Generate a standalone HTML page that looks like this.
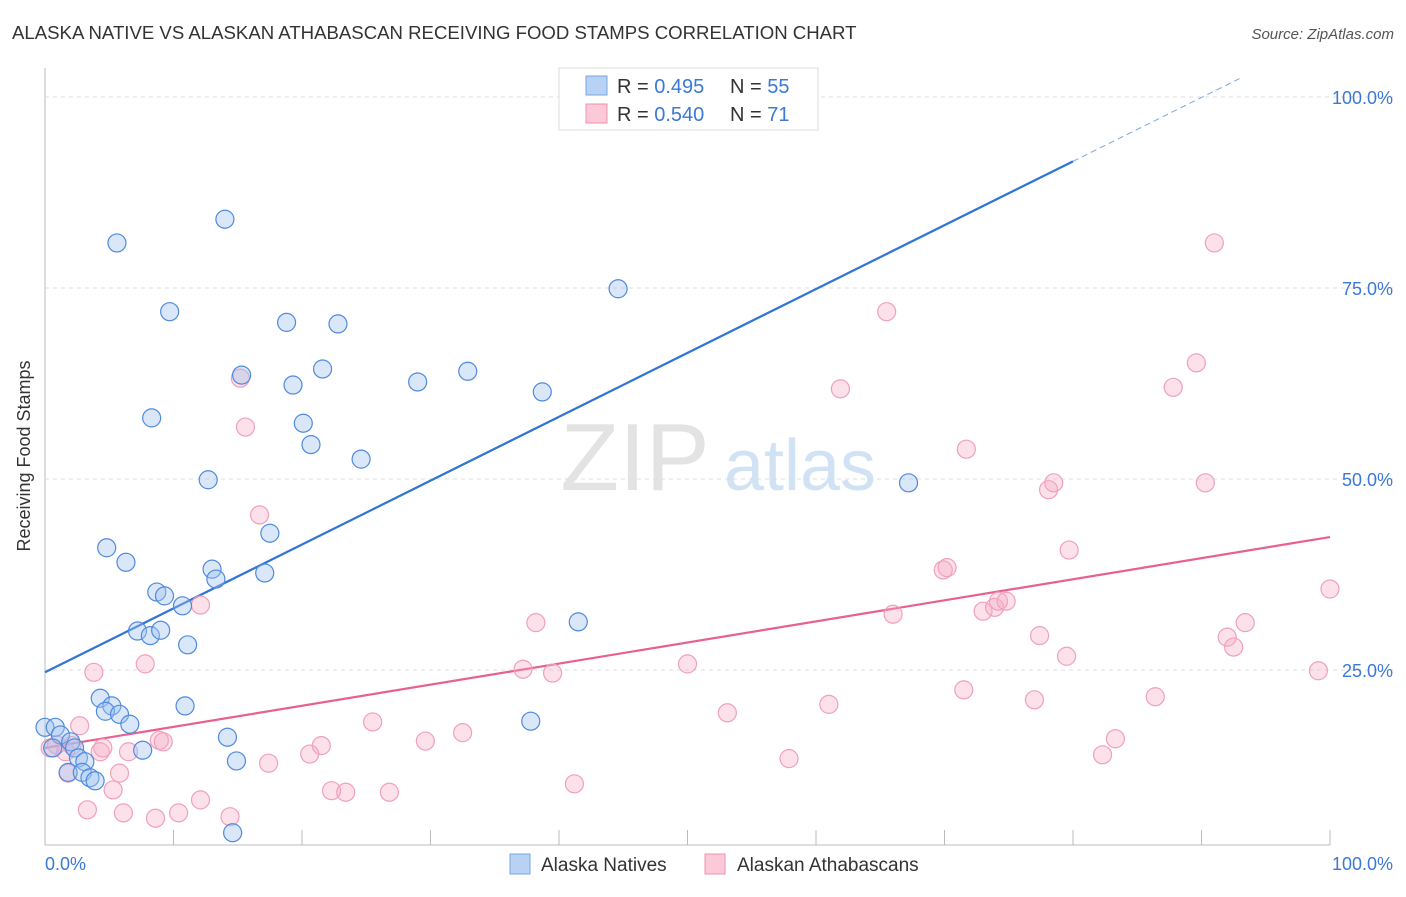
<!DOCTYPE html>
<html><head><meta charset="utf-8"><style>
body{margin:0;background:#fff;font-family:"Liberation Sans",sans-serif;}
svg text{font-family:"Liberation Sans",sans-serif;}
</style></head><body>
<svg id="c" width="1406" height="892" viewBox="0 0 1406 892" xmlns="http://www.w3.org/2000/svg">
<text x="12" y="39" font-size="18.6" fill="#333">ALASKA NATIVE VS ALASKAN ATHABASCAN RECEIVING FOOD STAMPS CORRELATION CHART</text>
<text x="1394" y="39" font-size="15" fill="#555" font-style="italic" text-anchor="end">Source: ZipAtlas.com</text>
<text x="30" y="456" font-size="18" fill="#333" text-anchor="middle" transform="rotate(-90 30 456)">Receiving Food Stamps</text>
<g id="grid"></g>
<g><text x="635" y="490" font-size="96" fill="#ddd" font-family="Liberation Serif" text-anchor="middle" opacity="0.8">ZIP</text><text x="800" y="490" font-size="72" fill="#c8dcf3" text-anchor="middle" opacity="0.8">atlas</text></g>
<g id="lines"></g>
<g id="pts"></g>
<g>
<rect x="559" y="68" width="259" height="62" fill="#fff" stroke="#ddd"/>
<rect x="586" y="76" width="21" height="19" fill="#b7d2f4" stroke="#7aa7e0"/>
<rect x="586" y="104" width="21" height="19" fill="#fbc9d8" stroke="#ee93b0"/>
<text x="617" y="93" font-size="20" fill="#333">R = <tspan fill="#3b78d8">0.495</tspan></text>
<text x="730" y="93" font-size="20" fill="#333">N = <tspan fill="#3b78d8">55</tspan></text>
<text x="617" y="121" font-size="20" fill="#333">R = <tspan fill="#3b78d8">0.540</tspan></text>
<text x="730" y="121" font-size="20" fill="#333">N = <tspan fill="#3b78d8"> 71</tspan></text>
</g>
<g>
<rect x="510" y="854" width="20" height="20" fill="#b7d2f4" stroke="#7aa7e0"/>
<text x="541" y="871" font-size="19" fill="#333">Alaska Natives</text>
<rect x="705" y="854" width="20" height="20" fill="#fbc9d8" stroke="#ee93b0"/>
<text x="737" y="871" font-size="19" fill="#333">Alaskan Athabascans</text>
</g>
<text x="45" y="870" font-size="18" fill="#3b78d8">0.0%</text>
<text x="1393" y="870" font-size="18" fill="#3b78d8" text-anchor="end">100.0%</text>
</svg>
<script>
const yTicks=[25,50,75,100];
const yTickLabels=["25.0%","50.0%","75.0%","100.0%"];
const xTicks=[0,10,20,30,40,50,60,70,80,90,100];
const blueX=[0,0.8,1.2,2,2.3,0.6,2.6,3.1,1.8,2.9,3.5,3.9,4.3,5.2,4.7,5.8,6.6,7.6,10.9,14.2,14.9,14.6,4.8,6.3,7.2,8.2,9,8.7,9.3,10.7,11.1,12.7,13,13.3,17.1,17.5,5.6,14,9.7,8.3,15.3,18.8,22.8,19.3,20.1,20.7,21.6,24.6,29,32.9,38.7,44.6,41.5,37.8,67.2];
const blueY=[17.5,17.5,16.5,15.6,14.8,14.8,13.5,13,11.6,11.6,10.9,10.5,21.3,20.3,19.6,19.2,17.9,14.5,20.3,16.2,13.1,3.7,41,39.1,30.1,29.5,30.2,35.2,34.7,33.4,28.3,49.9,38.2,36.9,37.7,42.9,80.9,84,71.9,58,63.6,70.5,70.3,62.3,57.3,54.5,64.4,52.6,62.7,64.1,61.4,74.9,31.3,18.3,49.5];
const pinkX=[0.4,0.9,1.6,2.1,2.7,1.8,3.3,3.8,4.3,4.5,5.3,5.8,6.1,6.5,7.8,8.6,8.9,9.2,10.4,12.1,12.1,14.4,15.2,15.6,16.7,17.4,20.6,21.5,22.3,23.4,25.5,26.8,29.6,32.5,38.2,37.2,39.5,41.2,50,53.1,57.9,61,61.9,65.5,66,69.9,70.2,71.5,71.7,73,73.9,74.2,74.8,77,77.4,78.1,78.5,79.5,79.7,82.3,83.3,86.4,87.8,89.6,90.3,91,92,92.5,93.4,99.1,100];
const pinkY=[14.8,15.2,14.3,15.1,17.7,11.5,6.7,24.7,14.3,14.8,9.3,11.5,6.3,14.3,25.8,5.6,15.8,15.6,6.3,33.5,8,5.8,63.2,56.8,45.3,12.8,14,15.1,9.2,9,18.2,9,15.7,16.8,31.2,25.1,24.6,10.1,25.8,19.4,13.4,20.5,61.8,71.9,32.3,38.1,38.4,22.4,53.9,32.7,33.2,34,34,21.1,29.5,48.6,49.5,26.8,40.7,13.9,16,21.5,62,65.2,49.5,80.9,29.3,28,31.2,24.9,35.6];
const trendBlue=[24.7,0.836];
const trendPink=[14.8,0.276];
const NS="http://www.w3.org/2000/svg";
const sx=v=>45+v*12.85, sy=v=>861-v*7.64;
function mk(t,a,p){const e=document.createElementNS(NS,t);for(const k in a)e.setAttribute(k,a[k]);p.appendChild(e);return e;}
const grid=document.getElementById('grid');
mk('line',{x1:45,y1:68,x2:45,y2:845,stroke:'#bbb'},grid);
mk('line',{x1:45,y1:845,x2:1330,y2:845,stroke:'#bbb'},grid);
yTicks.forEach((t,i)=>{
 const l=mk('line',{x1:45,y1:sy(t),x2:1394,y2:sy(t),stroke:'#ddd','stroke-dasharray':'4,4'},grid);
 
 
 const tx=mk('text',{x:1393,y:sy(t)+7,'font-size':18,fill:'#3b78d8','text-anchor':'end'},grid);
 tx.textContent=yTickLabels[i];
 
 
});
xTicks.forEach(t=>{
 const l=mk('line',{x1:sx(t),y1:830,x2:sx(t),y2:845,stroke:'#bbb'},grid);
 
 
});
const lines=document.getElementById('lines');
let b=mk('line',{x1:sx(0),y1:sy(trendBlue[0]),x2:sx(80),y2:sy(trendBlue[0]+80*trendBlue[1]),stroke:'#2f74d6','stroke-width':2.2},lines);


let bd=mk('line',{x1:sx(80),y1:sy(trendBlue[0]+80*trendBlue[1]),x2:sx(93),y2:sy(trendBlue[0]+93*trendBlue[1]),stroke:'#7aa7e0','stroke-width':1,'stroke-dasharray':'6,4'},lines);


let p=mk('line',{x1:sx(0),y1:sy(trendPink[0]),x2:sx(100),y2:sy(trendPink[0]+100*trendPink[1]),stroke:'#e8608c','stroke-width':2.2},lines);


const pts=document.getElementById('pts');
pinkX.forEach((x,i)=>{
 const c=mk('circle',{cx:sx(x),cy:sy(pinkY[i]),r:9,fill:'rgba(246,170,195,0.35)',stroke:'#f0a0ba','stroke-width':1.2},pts);
 
 
});
blueX.forEach((x,i)=>{
 const c=mk('circle',{cx:sx(x),cy:sy(blueY[i]),r:9,fill:'rgba(160,195,240,0.4)',stroke:'#4f8ade','stroke-width':1.2},pts);
 
 
});
</script>
</body></html>
